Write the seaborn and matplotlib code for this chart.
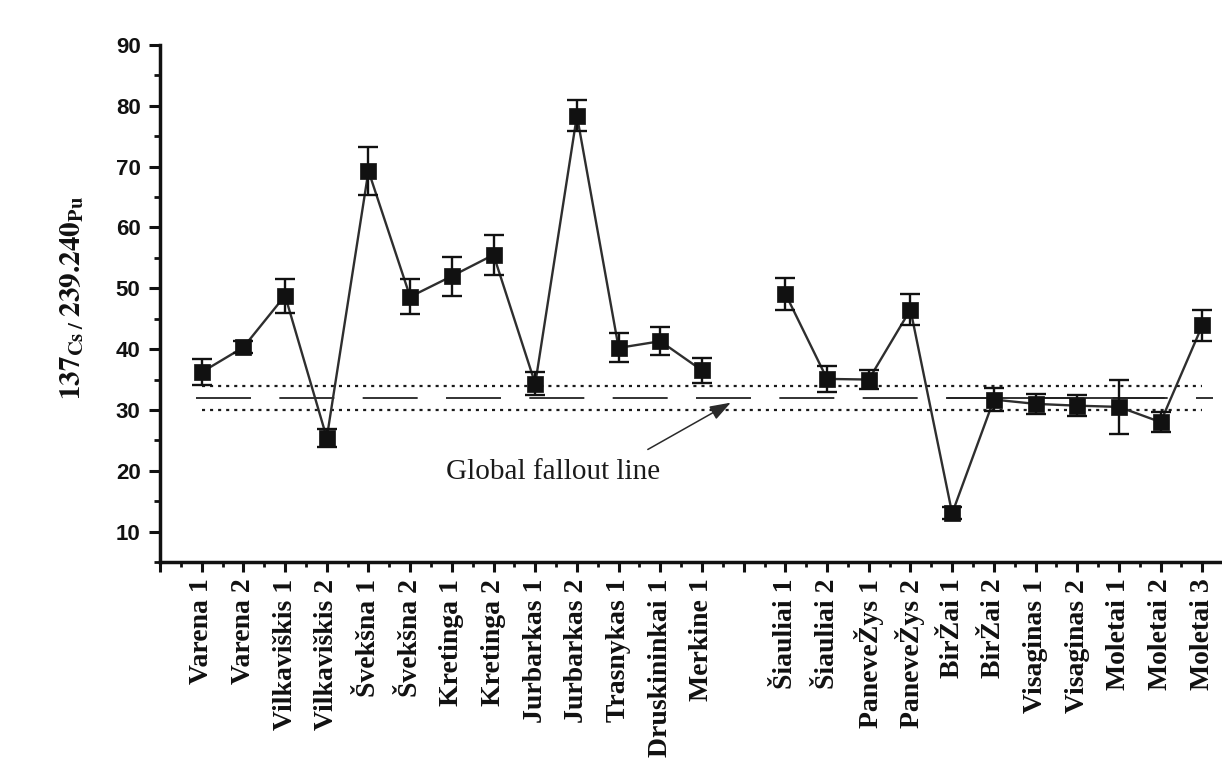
import numpy as np
import pandas as pd
import matplotlib
matplotlib.use("Agg")
import matplotlib.pyplot as plt
import seaborn as sns

# ---------------- data ----------------
sites_west = ["Varena 1", "Varena 2", "Vilkaviškis 1", "Vilkaviškis 2", "Švekšna 1",
              "Švekšna 2", "Kretinga 1", "Kretinga 2", "Jurbarkas 1", "Jurbarkas 2",
              "Trasnykas 1", "Druskininkai 1", "Merkine 1"]
ratio_west = [36.2, 40.3, 48.8, 25.4, 69.3, 48.6, 52.0, 55.5, 34.3, 78.4, 40.2, 41.3, 36.5]
err_west = [2.1, 1.0, 2.8, 1.5, 3.9, 2.9, 3.2, 3.3, 1.9, 2.5, 2.4, 2.3, 2.1]

sites_east = ["Šiauliai 1", "Šiauliai 2", "PaneveŽys 1", "PaneveŽys 2", "BirŽai 1",
              "BirŽai 2", "Visaginas 1", "Visaginas 2", "Moletai 1", "Moletai 2", "Moletai 3"]
ratio_east = [49.1, 35.1, 35.0, 46.5, 13.0, 31.7, 31.0, 30.7, 30.5, 28.0, 43.9]
err_east = [2.65, 2.1, 1.6, 2.6, 1.0, 1.85, 1.7, 1.75, 4.4, 1.6, 2.6]

global_fallout = 32.0
fallout_upper = 34.0
fallout_lower = 30.0

# category positions (one empty slot between the two groups)
pos_west = list(range(len(sites_west)))
pos_east = list(range(len(sites_west) + 1, len(sites_west) + 1 + len(sites_east)))

df = pd.DataFrame({
    "site": sites_west + sites_east,
    "pos": pos_west + pos_east,
    "ratio": ratio_west + ratio_east,
    "err": err_west + err_east,
    "group": ["west"] * len(sites_west) + ["east"] * len(sites_east),
})

# ---------------- style ----------------
sns.set_style("ticks")
plt.rcParams["font.family"] = ["Liberation Serif", "DejaVu Serif"]
plt.rcParams["mathtext.fontset"] = "stix"
plt.rcParams["lines.scale_dashes"] = False

W, H = 1222, 765
fig = plt.figure(figsize=(W / 100, H / 100), dpi=100)
ax = fig.add_axes([160 / W, (H - 562) / H, 1084 / W, 517 / H])

# reference lines
ax.plot([0, 24], [fallout_upper, fallout_upper], color="#1a1a1a", lw=1.6,
        dashes=(2.2, 3.6), zorder=1)
ax.plot([0, 24], [fallout_lower, fallout_lower], color="#1a1a1a", lw=1.6,
        dashes=(2.2, 3.6), zorder=1)
ax.plot([-0.14, 24.25], [global_fallout, global_fallout], color="#222222", lw=1.3,
        dashes=(39.6, 20.4), zorder=1)
ax.plot([17.9, 23.07], [global_fallout, global_fallout], color="#222222", lw=1.3, zorder=1)

# data
sns.lineplot(data=df, x="pos", y="ratio", units="group", estimator=None, sort=False,
             color="#2e2e2e", lw=1.7, ax=ax, zorder=2)
ax.errorbar(df["pos"], df["ratio"], yerr=df["err"], fmt="none", ecolor="#111111",
            elinewidth=1.7, capsize=7.5, capthick=1.7, zorder=3)
sns.scatterplot(data=df, x="pos", y="ratio", marker="s", s=140, color="#111111",
                edgecolor="#111111", linewidth=0.5, ax=ax, zorder=4, legend=False)

# annotation
ax.annotate("", xy=(12.69, 31.2), xytext=(10.7, 23.5),
            arrowprops=dict(arrowstyle="-|>,head_length=0.8,head_width=0.28",
                            color="#2a2a2a", lw=1.1, mutation_scale=16,
                            shrinkA=0, shrinkB=0), zorder=5)
ax.text(5.85, 18.7, "Global fallout line", fontsize=21, family="Liberation Serif",
        color="#1a1a1a", ha="left", va="baseline")

# axes
ax.set_xlim(-1, 25)
ax.set_ylim(5, 90)
major_x = np.arange(-1, 26)
label_map = dict(zip(df["pos"], df["site"]))
ax.set_xticks(major_x)
ax.set_xticklabels([label_map.get(p, "") for p in major_x], rotation=90,
                   fontsize=20, fontweight="bold", family="Liberation Serif",
                   va="top", ha="center", color="#111111")
ax.set_xticks(np.arange(-0.5, 25.5, 1), minor=True)
ax.set_yticks(np.arange(10, 91, 10))
ax.set_yticklabels([str(v) for v in range(10, 91, 10)], fontsize=16,
                   fontweight="bold", family="Liberation Sans", color="#111111")
ax.set_yticks(np.arange(5, 90, 10), minor=True)

ax.tick_params(axis="both", which="major", direction="out", width=2.2, color="#111111")
ax.tick_params(axis="both", which="minor", direction="out", width=2.0, color="#111111")
ax.tick_params(axis="x", which="major", length=7, pad=5)
ax.tick_params(axis="x", which="minor", length=3.5)
ax.tick_params(axis="y", which="major", length=8, pad=6)
ax.tick_params(axis="y", which="minor", length=4)

for side in ["top", "right"]:
    ax.spines[side].set_visible(False)
for side in ["left", "bottom"]:
    ax.spines[side].set_linewidth(2.5)
    ax.spines[side].set_color("#111111")

ax.set_xlabel("")
ax.set_ylabel(r"$\mathbf{137}_{\mathbf{Cs\ /\ }}\mathbf{239.240}_{\mathbf{Pu}}$",
              fontsize=21, color="#111111")
ax.yaxis.set_label_coords(-0.068, 0.51)

fig.savefig("out.png", dpi=100)
